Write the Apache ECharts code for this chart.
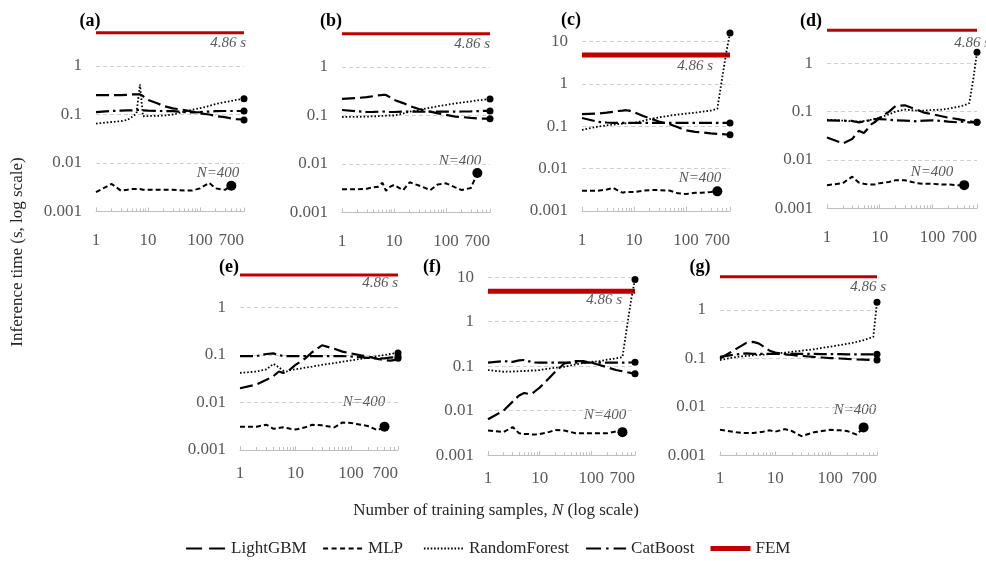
<!DOCTYPE html>
<html><head><meta charset="utf-8">
<script src="https://cdn.jsdelivr.net/npm/echarts@6/dist/echarts.min.js"></script>
<style>html,body{margin:0;padding:0;background:#fff}#c{width:986px;height:561px}</style>
</head><body><div id="c"></div>
<script>
// ---- data ----
const N = [1,2,3,4,5,6,7,8,10,15,20,30,50,70,100,150,200,300,400,500,600,700];
const N_MLP = [1,2,3,4,5,6,7,8,10,15,20,30,50,70,100,150,200,300,400];
const panelLabels = ['(a)','(b)','(c)','(d)','(e)','(f)','(g)'];
const seriesNames = ['LightGBM','MLP','RandomForest','CatBoost','FEM'];
const femTime = 4.86;
const femLabel = '4.86 s';
const mlpLabel = 'N=400';

const lgbmA = [0.25,0.25,0.25,0.255,0.26,0.26,0.26,0.24,0.2,0.17,0.15,0.134,0.124,0.115,0.106,0.1,0.093,0.088,0.083,0.08,0.079,0.077];
const mlpA  = [0.0025,0.0037,0.0027,0.0028,0.0029,0.0029,0.0029,0.0028,0.0028,0.0028,0.0028,0.0028,0.0027,0.0027,0.003,0.0039,0.003,0.0028,0.0034];
const rfA   = [0.065,0.07,0.073,0.077,0.09,0.105,0.42,0.092,0.093,0.094,0.095,0.1,0.115,0.125,0.135,0.15,0.165,0.18,0.19,0.2,0.205,0.21];
const cbA   = [0.112,0.118,0.12,0.122,0.122,0.124,0.125,0.122,0.12,0.118,0.118,0.117,0.112,0.11,0.112,0.115,0.117,0.118,0.118,0.118,0.118,0.118];

const lgbmB = [0.22,0.23,0.24,0.25,0.26,0.265,0.265,0.245,0.21,0.18,0.157,0.136,0.12,0.111,0.103,0.095,0.093,0.089,0.087,0.086,0.086,0.086];
const mlpB  = [0.003,0.003,0.0031,0.0033,0.0034,0.0041,0.0028,0.0033,0.0037,0.0029,0.0042,0.0036,0.0029,0.0038,0.004,0.0033,0.0029,0.0032,0.0065];
const rfB   = [0.093,0.094,0.095,0.096,0.097,0.098,0.099,0.1,0.1,0.11,0.12,0.13,0.145,0.155,0.165,0.178,0.185,0.195,0.205,0.21,0.215,0.22];
const cbB   = [0.13,0.122,0.118,0.119,0.12,0.121,0.12,0.119,0.118,0.12,0.121,0.12,0.119,0.12,0.121,0.12,0.121,0.122,0.123,0.124,0.124,0.124];

const lgbmC = [0.195,0.2,0.21,0.22,0.23,0.235,0.24,0.235,0.215,0.175,0.155,0.13,0.11,0.095,0.08,0.074,0.072,0.068,0.066,0.065,0.064,0.063];
const mlpC  = [0.003,0.003,0.0032,0.0035,0.003,0.0027,0.0028,0.0028,0.0028,0.003,0.0031,0.0031,0.003,0.0026,0.0025,0.0027,0.0027,0.0028,0.0029];
const rfC   = [0.082,0.098,0.105,0.11,0.113,0.116,0.118,0.12,0.12,0.135,0.148,0.162,0.18,0.19,0.2,0.21,0.22,0.235,0.26,1.5,6,16];
const cbC   = [0.157,0.128,0.123,0.12,0.12,0.12,0.12,0.12,0.12,0.12,0.12,0.12,0.12,0.12,0.12,0.12,0.12,0.12,0.12,0.12,0.12,0.12];

const lgbmD = [0.029,0.022,0.027,0.04,0.036,0.045,0.055,0.06,0.075,0.1,0.13,0.135,0.11,0.095,0.088,0.08,0.075,0.07,0.066,0.063,0.061,0.06];
const mlpD  = [0.003,0.0033,0.0045,0.0034,0.0032,0.0031,0.0031,0.0031,0.0033,0.0035,0.0038,0.0038,0.0033,0.0032,0.0032,0.0031,0.0031,0.003,0.003];
const rfD   = [0.068,0.065,0.063,0.062,0.064,0.066,0.068,0.07,0.075,0.088,0.1,0.11,0.105,0.105,0.108,0.11,0.115,0.125,0.135,0.15,0.5,1.7];
const cbD   = [0.066,0.065,0.064,0.06,0.062,0.065,0.068,0.07,0.07,0.068,0.066,0.065,0.063,0.065,0.066,0.064,0.062,0.06,0.062,0.06,0.06,0.06];

const lgbmE = [0.02,0.024,0.03,0.036,0.045,0.042,0.045,0.05,0.062,0.085,0.115,0.16,0.135,0.118,0.108,0.098,0.093,0.083,0.078,0.076,0.078,0.085];
const mlpE  = [0.0031,0.0031,0.0034,0.0028,0.0029,0.003,0.0029,0.0028,0.0027,0.003,0.0034,0.0033,0.003,0.0038,0.0037,0.0034,0.0032,0.0026,0.0031];
const rfE   = [0.042,0.045,0.05,0.065,0.055,0.047,0.045,0.048,0.05,0.054,0.057,0.062,0.068,0.072,0.077,0.083,0.087,0.095,0.1,0.105,0.108,0.11];
const cbE   = [0.095,0.095,0.105,0.108,0.1,0.095,0.095,0.095,0.095,0.095,0.095,0.095,0.095,0.095,0.093,0.09,0.087,0.085,0.085,0.088,0.09,0.093];

const lgbmF = [0.0064,0.01,0.016,0.022,0.025,0.024,0.024,0.027,0.033,0.053,0.075,0.115,0.13,0.13,0.12,0.105,0.095,0.082,0.077,0.073,0.07,0.068];
const mlpF  = [0.0036,0.0033,0.0043,0.0031,0.003,0.003,0.0029,0.0029,0.003,0.0033,0.0037,0.0036,0.0031,0.0031,0.0031,0.0031,0.0031,0.0034,0.0033];
const rfF   = [0.082,0.075,0.076,0.077,0.078,0.079,0.08,0.08,0.082,0.088,0.092,0.097,0.11,0.118,0.125,0.13,0.14,0.15,0.16,0.9,3.5,8.9];
const cbF   = [0.12,0.13,0.125,0.135,0.138,0.13,0.125,0.122,0.12,0.12,0.12,0.12,0.12,0.12,0.12,0.12,0.12,0.12,0.12,0.121,0.122,0.123];

const lgbmG = [0.1,0.16,0.21,0.22,0.205,0.18,0.158,0.145,0.132,0.122,0.118,0.113,0.108,0.105,0.102,0.1,0.098,0.096,0.095,0.094,0.093,0.093];
const mlpG  = [0.0034,0.003,0.0029,0.0029,0.003,0.0031,0.0032,0.0033,0.0031,0.0035,0.0032,0.0025,0.003,0.0032,0.0034,0.0033,0.0032,0.0027,0.0038];
const rfG   = [0.093,0.108,0.113,0.116,0.118,0.12,0.122,0.124,0.127,0.132,0.137,0.145,0.155,0.165,0.175,0.19,0.2,0.22,0.24,0.26,0.28,1.44];
const cbG   = [0.108,0.122,0.128,0.125,0.125,0.125,0.125,0.125,0.125,0.125,0.125,0.124,0.124,0.123,0.123,0.123,0.122,0.122,0.122,0.122,0.122,0.122];

const panelData = [
  [lgbmA, mlpA, rfA, cbA], [lgbmB, mlpB, rfB, cbB], [lgbmC, mlpC, rfC, cbC], [lgbmD, mlpD, rfD, cbD],
  [lgbmE, mlpE, rfE, cbE], [lgbmF, mlpF, rfF, cbF], [lgbmG, mlpG, rfG, cbG]
];

// ---- layout (pixels) ----
const layout = [
  {x0:96,  x1:244, y1:66,    dec:48.5, ymax:6,  femW:3, xm:21, fem:[246,43],  nl:[218,173], t:[90,21]},
  {x0:342, x1:490, y1:67,    dec:48.5, ymax:6,  femW:3, xm:21, fem:[490,44],  nl:[460,161], t:[331,21]},
  {x0:582, x1:730, y1:84,    dec:42.3, ymax:20, femW:5, xm:21, fem:[713,66],  nl:[700,178], t:[571,20]},
  {x0:827, x1:977, y1:63.3,  dec:48.3, ymax:6,  femW:3, xm:21, fem:[990,43],  nl:[932,172], t:[811,21]},
  {x0:240, x1:398, y1:307.5, dec:47.5, ymax:6,  femW:3, xm:15, fem:[398,283], nl:[364,402], t:[229,267]},
  {x0:488, x1:635, y1:321.7, dec:44.5, ymax:20, femW:5, xm:15, fem:[622,300], nl:[605,415], t:[432,267]},
  {x0:720, x1:877, y1:310,   dec:48.5, ymax:6,  femW:3, xm:15, fem:[886,287], nl:[855,410], t:[700,267]}
];
const legendPos = [185, 322, 423, 585, 708];
const FONT = '"Liberation Serif","Times New Roman",serif';
const GRAY = '#595959';
const lineStyles = {
  LightGBM:     {type:[13,5], width:2.2},
  MLP:          {type:[5,3], width:2},
  RandomForest: {type:[1.6,2], width:1.8},
  CatBoost:     {type:[13,4,2.5,4], width:2.2}
};
const legendLine = {
  LightGBM: {type:[16,7], width:2.2},
  MLP: {type:[5,3.5], width:2.2},
  RandomForest: {type:[1.6,1.8], width:1.8},
  CatBoost: {type:[15,5,2.5,5], width:2.2},
  FEM: {type:'solid', width:5}
};

const grids = [], xAxes = [], yAxes = [], series = [], graphics = [];
layout.forEach((L, i) => {
  const h = L.dec * (Math.log10(L.ymax) + 3);
  const top = L.y1 - L.dec * Math.log10(L.ymax);
  grids.push({left: L.x0, width: L.x1 - L.x0, top: top, height: h, outerBoundsMode: 'none'});
  xAxes.push({
    type: 'log', gridIndex: i, min: 1, max: 700,
    axisLine: {show: true, lineStyle: {color: '#bfbfbf', width: 1}},
    axisTick: {show: true, inside: true, length: 4, lineStyle: {color: '#bfbfbf'}},
    minorTick: {show: true, splitNumber: 9, length: 3, lineStyle: {color: '#bfbfbf'}},
    splitLine: {show: false},
    axisLabel: {color: GRAY, fontFamily: FONT, fontSize: 17, margin: L.xm, alignMaxLabel: 'right'}
  });
  yAxes.push({
    type: 'log', gridIndex: i, min: 0.001, max: L.ymax,
    axisLine: {show: false}, axisTick: {show: false},
    axisLabel: {showMaxLabel: false, color: GRAY, fontFamily: FONT, fontSize: 17, margin: 14,
      formatter: v => v >= 1 ? String(Math.round(v)) : String(+v.toPrecision(3))},
    splitLine: {show: true, showMinLine: false, showMaxLine: false,
      lineStyle: {color: '#d0d0d0', type: [4, 3], width: 1}}
  });
  const d = panelData[i];
  const mk = (xs, ys, size) => ys.map((v, k) => k === ys.length - 1
      ? {value: [xs[k], v], symbol: 'circle', symbolSize: size} : [xs[k], v]);
  [[0, N, 7], [1, N_MLP, 10], [2, N, 7], [3, N, 7]].forEach(([si, xs, sz]) => {
    const name = seriesNames[si];
    series.push({
      name, type: 'line', xAxisIndex: i, yAxisIndex: i, data: mk(xs, d[si], sz),
      symbol: 'none', showSymbol: true, silent: true, clip: false,
      itemStyle: {color: '#000'},
      lineStyle: Object.assign({color: '#000'}, lineStyles[name]), z: 3
    });
  });
  series.push({
    name: 'FEM', type: 'line', xAxisIndex: i, yAxisIndex: i,
    data: [[N[0], femTime], [N[N.length - 1], femTime]], symbol: 'none', silent: true, clip: false,
    itemStyle: {color: '#c00000'}, lineStyle: {color: '#c00000', width: L.femW, type: 'solid'}, z: 2
  });
  graphics.push({type: 'text', x: L.t[0], y: L.t[1], style: {text: panelLabels[i], fill: '#000',
    font: 'bold 18px ' + FONT, align: 'center', verticalAlign: 'middle', textAlign: 'center', textVerticalAlign: 'middle'}});
  graphics.push({type: 'text', x: L.fem[0], y: L.fem[1], style: {text: femLabel, fill: GRAY,
    font: 'italic 15px ' + FONT, align: 'right', verticalAlign: 'middle', textAlign: 'right', textVerticalAlign: 'middle'}});
  graphics.push({type: 'text', x: L.nl[0], y: L.nl[1], style: {text: mlpLabel, fill: GRAY,
    font: 'italic 15px ' + FONT, align: 'center', verticalAlign: 'middle', textAlign: 'center', textVerticalAlign: 'middle'}});
});

graphics.push({type: 'text', x: 18, y: 252, rotation: Math.PI / 2, style: {text: 'Inference time (s, log scale)',
  fill: '#262626', font: '17px ' + FONT, align: 'center', verticalAlign: 'middle', textAlign: 'center', textVerticalAlign: 'middle'}});
graphics.push({type: 'text', x: 496, y: 511, style: {text: 'Number of training samples, {i|N} (log scale)',
  fill: '#262626', fontSize: 17, fontFamily: FONT, align: 'center', verticalAlign: 'middle', textAlign: 'center', textVerticalAlign: 'middle',
  rich: {i: {fontStyle: 'italic', fontSize: 17, fontFamily: FONT, fill: '#262626'}}}});

const legends = seriesNames.map((name, k) => ({
  left: legendPos[k], top: 540, itemWidth: 40, itemHeight: 14, itemGap: 0, padding: 0,
  textStyle: {fontFamily: FONT, fontSize: 17, color: '#262626'},
  itemStyle: {opacity: 0},
  lineStyle: legendLine[name],
  data: [{name}], selectedMode: false
}));

const chart = echarts.init(document.getElementById('c'), null, {renderer: 'canvas'});
chart.setOption({
  animation: false,
  backgroundColor: '#fff',
  grid: grids, xAxis: xAxes, yAxis: yAxes, series: series,
  legend: legends,
  graphic: graphics
});
</script></body></html>
